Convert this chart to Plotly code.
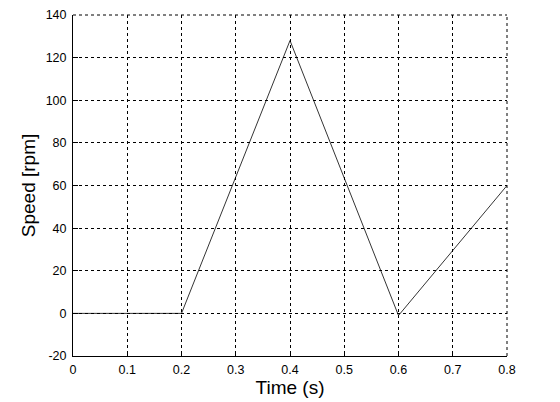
import plotly.graph_objects as go

time_s = [0.0, 0.2, 0.4, 0.6, 0.8]
speed_rpm = [0.0, 0.0, 128.0, -1.0, 60.0]
x_ticks = [0, 0.1, 0.2, 0.3, 0.4, 0.5, 0.6, 0.7, 0.8]
x_labels = ["0", "0.1", "0.2", "0.3", "0.4", "0.5", "0.6", "0.7", "0.8"]
y_ticks = [-20, 0, 20, 40, 60, 80, 100, 120, 140]
y_labels = ["-20", "0", "20", "40", "60", "80", "100", "120", "140"]

fig = go.Figure()
fig.add_trace(go.Scatter(x=time_s, y=speed_rpm, mode="lines",
                         line=dict(color="black", width=0.8), showlegend=False))

font = "Liberation Sans, Arial, sans-serif"
# page has an 8px default body margin, so figure is sized 8px smaller
fig.update_layout(
    width=552, height=394,
    margin=dict(l=65, r=53, t=7, b=46, autoexpand=False),
    paper_bgcolor="white", plot_bgcolor="white",
    font=dict(family=font, color="black", size=12),
    shapes=[
        dict(type="line", xref="paper", yref="paper", x0=0, x1=1, y0=1, y1=1,
             line=dict(color="black", width=1, dash="3px,3px"), layer="above"),
        dict(type="line", xref="paper", yref="paper", x0=1, x1=1, y0=0, y1=1,
             line=dict(color="black", width=1, dash="3px,3px"), layer="above"),
    ],
)
fig.update_xaxes(
    range=[0, 0.8], tickvals=x_ticks, ticktext=x_labels,
    showgrid=True, gridcolor="black", griddash="3px,3px", gridwidth=1,
    showline=True, linecolor="black", linewidth=1,
    ticks="inside", ticklen=5, tickcolor="black",
    zeroline=False, tickfont=dict(size=12.5, family=font),
    ticklabelstandoff=2, automargin=False, ticklabeloverflow="allow",
    title=dict(text="Time (s)", font=dict(size=19, family=font), standoff=2),
)
fig.update_yaxes(
    range=[-20, 140], tickvals=y_ticks, ticktext=y_labels,
    showgrid=True, gridcolor="black", griddash="3px,3px", gridwidth=1,
    showline=True, linecolor="black", linewidth=1,
    ticks="inside", ticklen=5, tickcolor="black",
    zeroline=False, tickfont=dict(size=12.5, family=font),
    ticklabelstandoff=3, automargin=False, ticklabeloverflow="allow",
    title=dict(text="Speed [rpm]", font=dict(size=19, family=font), standoff=4),
)
fig.write_html("out.html")
